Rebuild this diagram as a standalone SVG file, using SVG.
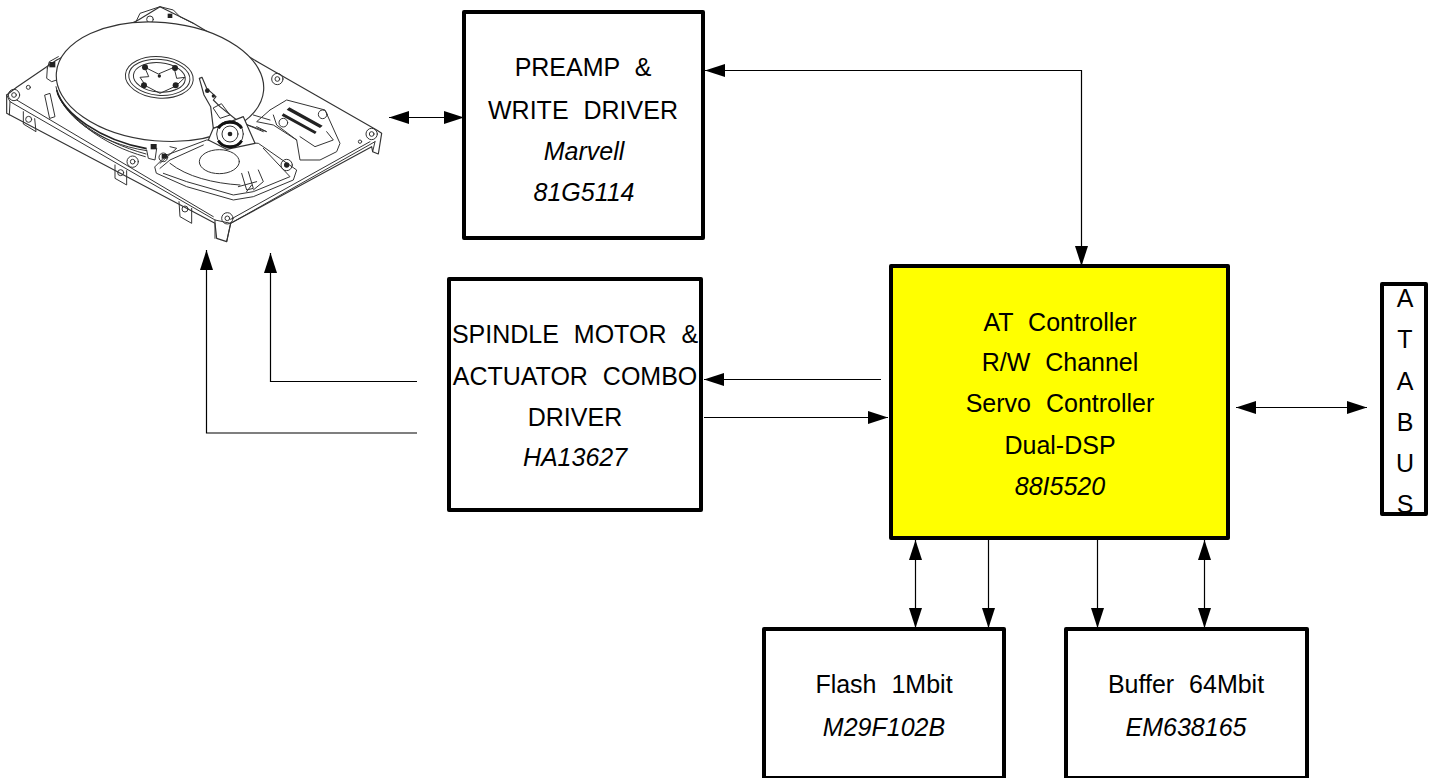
<svg xmlns="http://www.w3.org/2000/svg" width="1436" height="778" viewBox="0 0 1436 778">
<style>
.box{fill:#fff;stroke:#000;stroke-width:4;stroke-linejoin:round}
.t{font-family:"Liberation Sans",Arial,sans-serif;font-size:25px;text-anchor:middle;fill:#000;word-spacing:8px}
.i{font-style:italic}
.c{fill:none;stroke:#000;stroke-width:1.2}
.h{fill:none;stroke:#333;stroke-width:3;stroke-linejoin:round;stroke-linecap:round}
.w{fill:#fff;stroke:#333;stroke-width:3.500;stroke-linejoin:round}
.k{fill:#222;stroke:none}
</style>
<defs>
<marker id="e" viewBox="0 0 20 13" refX="20" refY="6.500" markerWidth="20" markerHeight="13" markerUnits="userSpaceOnUse" orient="auto-start-reverse"><path d="M0 0L20 6.500L0 13Z" fill="#000"/></marker>
<g id="screw"><circle class="h" r="17"/><circle class="h" r="7"/></g>
</defs>
<g id="hdd" transform="scale(.33333)">
<path class="w" d="M20 285L50 262L170 180L415 60L480 20L580 70L780 190L1130 390L1145 400L1135 462L1118 455L1115 440L692 670L680 725L650 715L645 670L20 340Z"/>
<path class="h" d="M20 285L30 305L645 660L692 670L1125 425M30 305L28 345M50 300L640 650M692 658L1110 425M645 660L645 715M1125 425L1118 455M692 670L680 725"/>
<path class="h" d="M70 335L70 372L108 395L104 356M345 495L345 535L380 555L380 512M537 605L540 650L575 670L575 625"/>
<circle class="h" cx="86" cy="358" r="9"/><circle class="h" cx="362" cy="518" r="9"/><circle class="h" cx="555" cy="627" r="9"/>
<use href="#screw" x="42" y="285"/><use href="#screw" x="832" y="237"/><use href="#screw" x="1115" y="402"/><use href="#screw" x="682" y="655"/><use href="#screw" x="398" y="485"/>
<circle class="h" cx="85" cy="262" r="6"/><circle class="h" cx="1080" cy="425" r="5"/>
<path class="h" d="M135 285L150 280L165 350L150 355Z"/>
<path class="h" d="M408 65L420 40L450 30L480 20L520 30L540 50L580 70"/>
<circle class="h" cx="450" cy="58" r="10"/><rect class="k" x="503" y="41" width="14" height="13"/>
<path class="h" d="M142 205L148 185L175 170M142 205L140 235L155 245L170 240"/>
<rect class="k" x="148" y="186" width="18" height="16"/>
<path class="h" d="M168 260C180 340 290 430 440 452M172 280C195 345 300 425 438 462M178 290C205 350 305 435 436 470"/>
<path fill="none" stroke="#222" stroke-width="5" d="M170 270C190 340 300 420 440 446"/>
<ellipse class="w" cx="480" cy="245" rx="312" ry="178" transform="rotate(5 480 245)"/>
<ellipse class="h" cx="478" cy="232" rx="102" ry="62" transform="rotate(5 478 232)"/>
<ellipse class="h" cx="478" cy="232" rx="92" ry="54" transform="rotate(5 478 232)"/>
<ellipse class="h" cx="478" cy="232" rx="78" ry="44" transform="rotate(5 478 232)"/>
<path class="h" d="M435 202L475 222L522 202L530 235L555 232L528 258L480 280L438 258L420 232L445 230Z"/>
<circle class="k" cx="435" cy="202" r="9"/><circle class="k" cx="525" cy="204" r="9"/><circle class="k" cx="432" cy="256" r="9"/><circle class="k" cx="527" cy="256" r="9"/><circle class="k" cx="478" cy="228" r="5"/>
<path class="w" d="M598 235L606 232L620 265L648 290L640 300L660 320L710 360L640 385L632 320L612 285Z"/>
<path class="h" d="M640 325L660 355L690 345L665 312Z"/>
<circle class="k" cx="622" cy="272" r="7"/><circle class="k" cx="640" cy="288" r="5"/>
<path class="h" d="M810 330L860 300L975 330L1020 430L1010 455L960 480L900 480L890 420L820 375L770 365L810 330M730 370L790 395M760 345L810 360M820 345L830 375L890 420M980 395L1000 420L945 440L900 410M770 380L800 395L730 370"/>
<path class="k" d="M868 322L968 377L960 384L860 329ZM850 340L950 395L945 402L845 347Z"/>
<circle class="h" cx="850" cy="368" r="13"/><circle class="h" cx="968" cy="343" r="13"/>
<path class="h" d="M465 500L500 465L620 420L775 430L890 510L880 540L760 590L700 600L560 560L470 520ZM480 505L510 480L610 435M490 520L560 545L700 585L760 575L870 530L790 445M510 490C560 530 640 550 720 555"/>
<ellipse class="h" cx="658" cy="485" rx="60" ry="36"/>
<path class="h" d="M725 520L740 570L760 565L745 515M775 510L790 545L760 570M715 560L770 545M740 575L755 555"/>
<circle class="h" cx="860" cy="495" r="17"/><circle class="k" cx="860" cy="495" r="8"/>
<circle class="h" cx="490" cy="472" r="13"/><rect class="k" x="452" y="432" width="18" height="16"/><rect class="k" x="485" y="462" width="16" height="14"/>
<path class="h" d="M440 450L445 475L465 480L470 445M510 440L530 445L480 490"/>
<path class="w" d="M640 385L730 350L765 430L680 448L625 420Z"/>
<circle class="h" cx="690" cy="402" r="40"/><circle class="h" cx="690" cy="402" r="24"/><circle class="k" cx="690" cy="402" r="7"/>
<path fill="none" stroke="#111" stroke-width="9" d="M655 385A38 30 0 0 1 725 385M655 422A38 30 0 0 0 725 422"/>
</g>
<g id="connectors">
<path class="c" marker-start="url(#e)" marker-end="url(#e)" d="M389 117.500H464"/>
<path class="c" marker-start="url(#e)" marker-end="url(#e)" d="M705 70.500H1081.500V266"/>
<path class="c" marker-end="url(#e)" d="M417 381.500H270.500V253"/>
<path class="c" marker-end="url(#e)" d="M417 433H206.500V250"/>
<path class="c" marker-end="url(#e)" d="M881 379.500H704"/>
<path class="c" marker-end="url(#e)" d="M704 417.500H888"/>
<path class="c" marker-start="url(#e)" marker-end="url(#e)" d="M1236 407.500H1367"/>
<path class="c" marker-start="url(#e)" marker-end="url(#e)" d="M915.500 540V628"/>
<path class="c" marker-end="url(#e)" d="M988.500 540V628"/>
<path class="c" marker-end="url(#e)" d="M1097.500 540V628"/>
<path class="c" marker-start="url(#e)" marker-end="url(#e)" d="M1204.500 540V628"/>
</g>
<g id="preamp"><rect class="box" x="464" y="12" width="239" height="226"/>
<text class="t" x="583" y="76">PREAMP &amp;</text><text class="t" x="583" y="119">WRITE DRIVER</text><text class="t i" x="584" y="160">Marvell</text><text class="t i" x="584" y="201">81G5114</text></g>
<g id="spindle"><rect class="box" x="449" y="279" width="252" height="231"/>
<text class="t" x="575" y="343">SPINDLE MOTOR &amp;</text><text class="t" x="575" y="385">ACTUATOR COMBO</text><text class="t" x="575" y="426">DRIVER</text><text class="t i" x="575" y="466">HA13627</text></g>
<g id="controller"><rect class="box" x="891" y="266" width="337" height="272" style="fill:#ff0"/>
<text class="t" x="1060" y="331">AT Controller</text><text class="t" x="1060" y="371">R/W Channel</text><text class="t" x="1060" y="412">Servo Controller</text><text class="t" x="1060" y="454">Dual-DSP</text><text class="t i" x="1060" y="495">88I5520</text></g>
<g id="atabus"><rect class="box" x="1382" y="284" width="44" height="230"/>
<text class="t" x="1405" y="307">A</text><text class="t" x="1405" y="348">T</text><text class="t" x="1405" y="390">A</text><text class="t" x="1405" y="431">B</text><text class="t" x="1405" y="472">U</text><text class="t" x="1405" y="513">S</text></g>
<g id="flash"><rect class="box" x="764" y="629" width="240" height="149"/>
<text class="t" x="884" y="693">Flash 1Mbit</text><text class="t i" x="884" y="736">M29F102B</text></g>
<g id="buffer"><rect class="box" x="1066" y="629" width="241" height="149"/>
<text class="t" x="1186" y="693">Buffer 64Mbit</text><text class="t i" x="1186" y="736">EM638165</text></g>
</svg>
